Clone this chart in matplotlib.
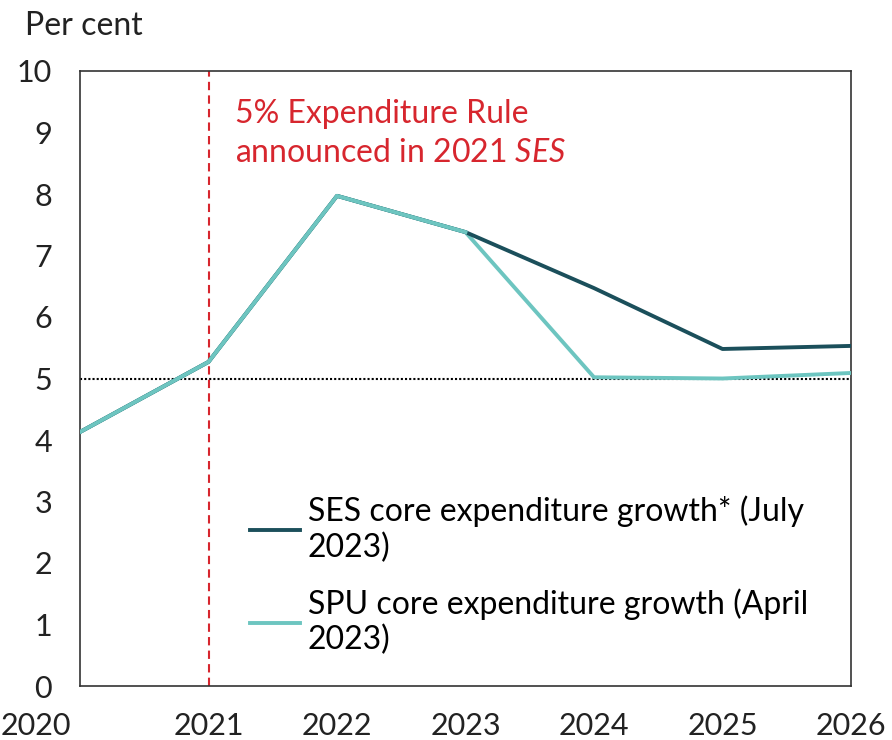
import matplotlib.pyplot as plt
from matplotlib.transforms import ScaledTranslation

plt.rcParams['font.family'] = ['Lato', 'DejaVu Sans']
plt.rcParams['mathtext.fontset'] = 'custom'
plt.rcParams['mathtext.it'] = 'Lato:italic'
plt.rcParams['mathtext.rm'] = 'Lato'

years = [2020, 2021, 2022, 2023, 2024, 2025, 2026]
ses = [4.13, 5.27, 7.97, 7.38, 6.47, 5.48, 5.53]
spu = [4.13, 5.27, 7.97, 7.38, 5.02, 5.00, 5.09]
rule_year = 2021
rule_level = 5

ses_label = 'SES core expenditure growth* (July\n2023)'
spu_label = 'SPU core expenditure growth (April\n2023)'

fig = plt.figure(figsize=(8.92, 7.40), dpi=100)
ax = fig.add_axes([80/892, 1 - 686/740, (851-80)/892, (686-71)/740])

ax.plot(years, spu, color='#6dc5c0', lw=2.8, label=spu_label, zorder=3)
ax.plot(years, ses, color='#1b4f5b', lw=2.8, label=ses_label, zorder=4)
# keep light line on top where they coincide
ax.plot(years[:4], spu[:4], color='#6dc5c0', lw=2.8, zorder=5)

ax.axhline(rule_level, color='black', ls=(0, (1, 1)), lw=1.5, zorder=2)
ax.axvline(rule_year, color='#d7262e', ls=(0, (4, 2.5)), lw=1.5, zorder=2)

ax.text(2021.21, 9.55, '5% Expenditure Rule\nannounced in 2021 $\\it{SES}$', color='#d7262e',
        fontsize=23, va='top', ha='left', linespacing=1.4)

ax.set_xlim(2020, 2026)
ax.set_ylim(0, 10)
ax.set_xticks(years)
ax.set_yticks(range(0, 11))
ax.tick_params(length=0, labelsize=22, colors='#222222')
ax.tick_params(axis='y', pad=20)
ax.tick_params(axis='x', pad=19)
for s in ax.spines.values():
    s.set_color('#333333')
    s.set_linewidth(1.2)

# first x label sits flush with the left edge in the original
lbl = ax.get_xticklabels()[0]
lbl.set_horizontalalignment('left')
lbl.set_transform(lbl.get_transform() + ScaledTranslation(-79/100, 0, fig.dpi_scale_trans))

handles, labels = ax.get_legend_handles_labels()
ax.legend(handles[::-1], labels[::-1], loc='upper left', bbox_to_anchor=(0.204, 0.33),
          frameon=False, fontsize=23, handlelength=1.56, handletextpad=0.25,
          labelspacing=0.8, borderaxespad=0)

fig.text(25/892, 1 - 26/740, 'Per cent', fontsize=23, va='center', ha='left', color='#222222')

fig.savefig('out.png', dpi=100)
